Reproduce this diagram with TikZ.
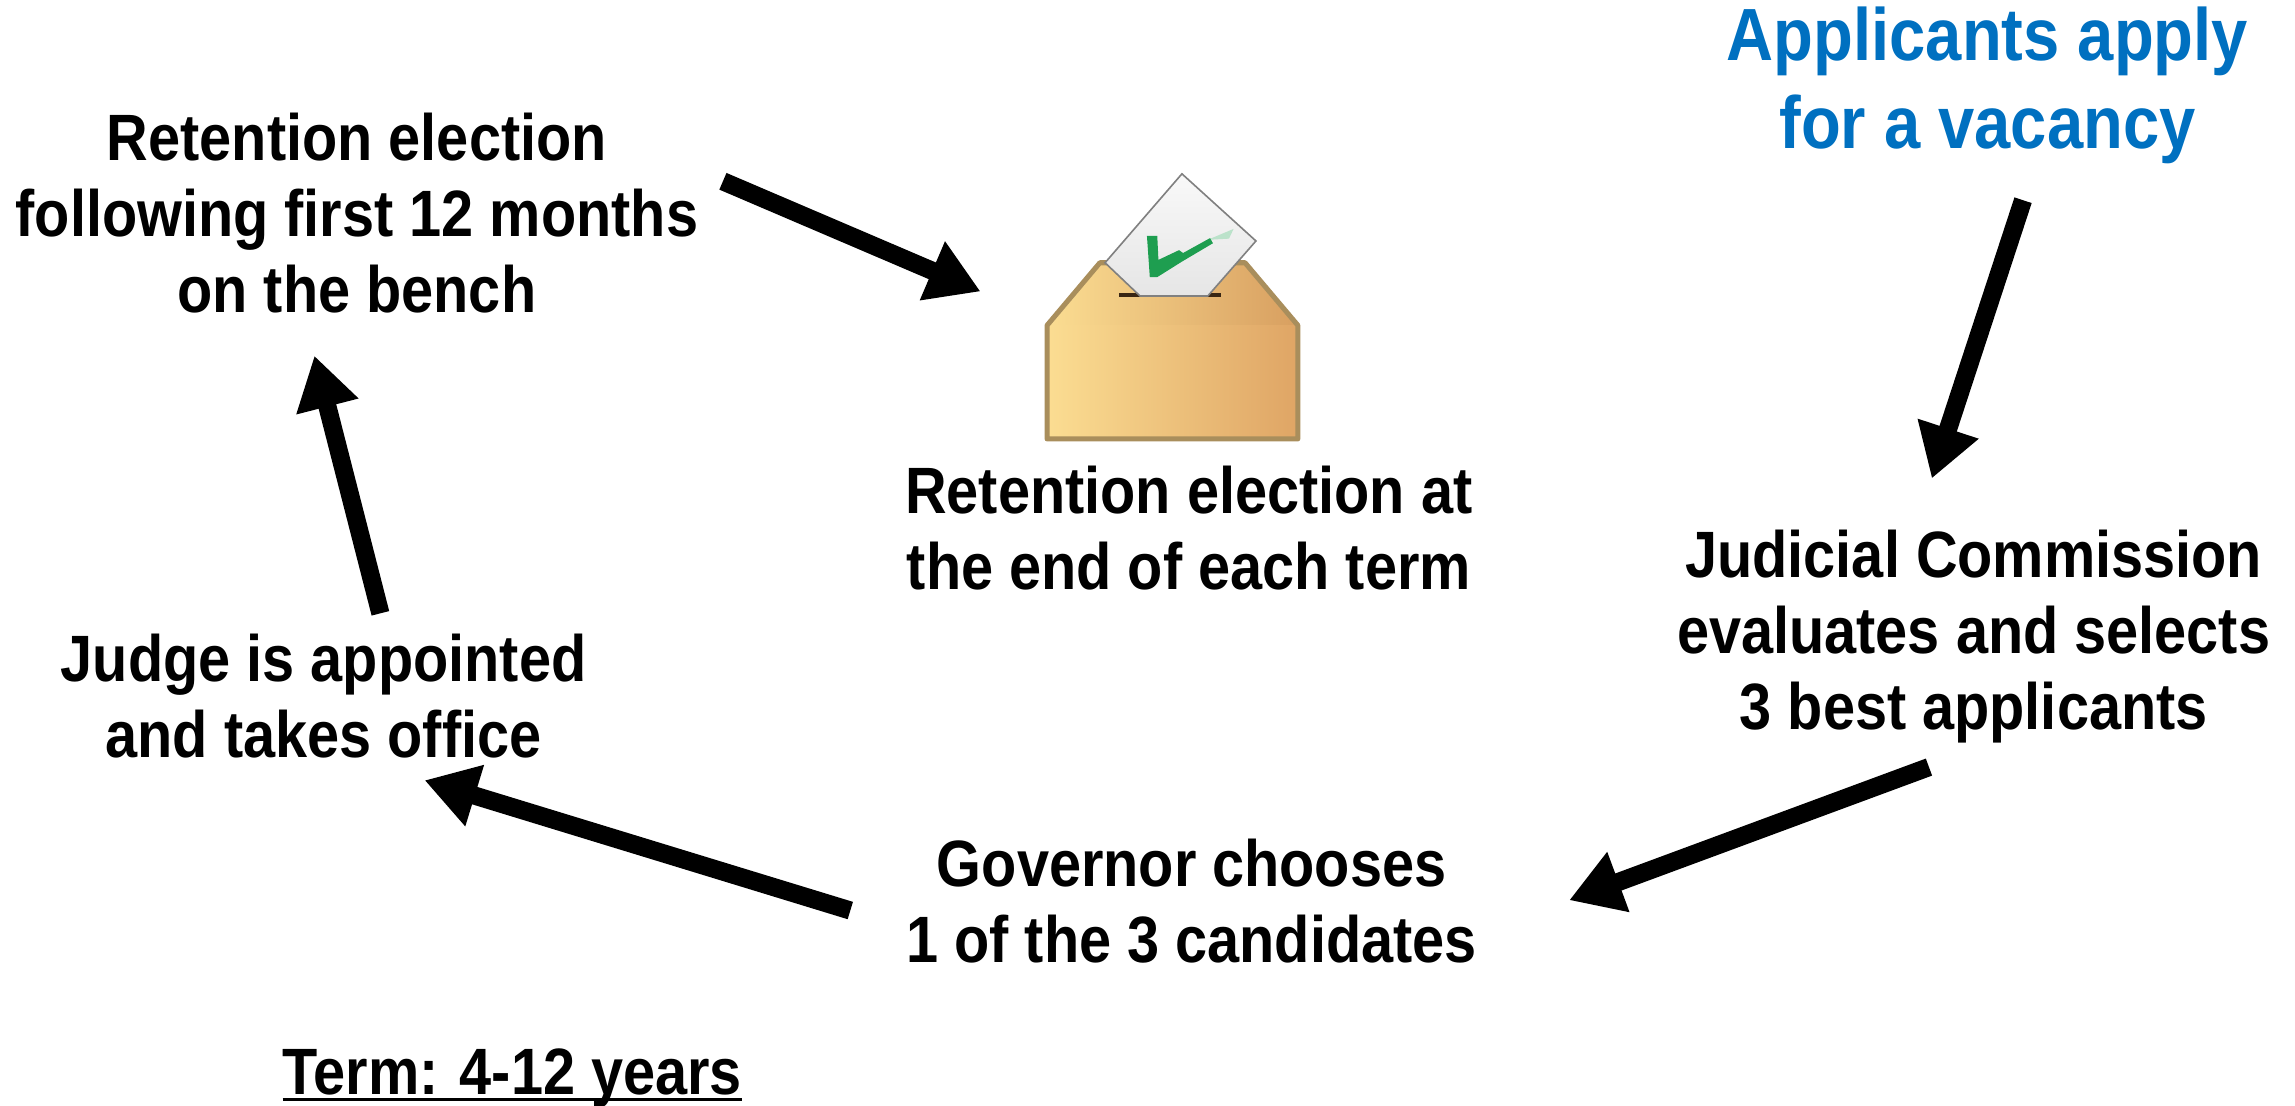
\documentclass[tikz,border=0pt]{standalone}
\usepackage{fontspec}
\setmainfont{Liberation Sans}[FakeStretch=0.88]
\usepackage{tikz}
\usetikzlibrary{positioning,calc,arrows.meta}
\definecolor{applyblue}{HTML}{0070C0}
\definecolor{tickgreen}{HTML}{1E9E50}
\definecolor{boxedge}{HTML}{A98E5C}
\definecolor{boxlight}{HTML}{FBDD92}
\definecolor{boxdark}{HTML}{DFA565}
\definecolor{flapdark}{HTML}{D89F60}
\newcommand{\termline}[1]{\setbox0=\hbox{#1}\rlap{\rule[-3.4pt]{\wd0}{1.6pt}}\box0}

\begin{document}
\begin{tikzpicture}
        \tikzstyle{steptext}=[align=center, inner sep=0pt, font=\fontsize{32.5}{37.7}\selectfont\bfseries]
        \tikzstyle{applytext}=[align=center, inner sep=0pt, text=applyblue, font=\fontsize{36.7}{43.5}\selectfont\bfseries]
        \tikzstyle{flow}=[line width=9pt, -{Triangle[length=26pt,width=30pt]}]

        \useasboundingbox (0,0) rectangle (40,19.26);

        % ballot box
        \fill[left color=boxlight, right color=flapdark]
            (18.25,13.59) -- (19.17,14.68) -- (21.70,14.68) -- (22.62,13.59) -- cycle;
        \fill[left color=boxlight, right color=boxdark]
            (18.25,11.61) rectangle (22.62,13.59);
        \draw[boxedge, line width=2.5pt, line join=round]
            (18.25,11.61) -- (18.25,13.59) -- (19.17,14.68) -- (21.70,14.68) -- (22.62,13.59) -- (22.62,11.61) -- cycle;
        \fill[black!70!brown] (19.50,14.09) rectangle (21.28,14.15);
        \draw[gray, line width=0.8pt, top color=gray!5, bottom color=gray!20]
            (20.60,16.23) -- (21.89,15.06) -- (21.05,14.10) -- (19.87,14.10) -- (19.26,14.68) -- cycle;
        \fill[tickgreen!30] (21.05,15.08) -- (21.50,15.27) -- (21.42,15.10) -- cycle;
        \fill[tickgreen] (19.99,15.15) -- (20.17,15.15) -- (20.19,14.73) -- (20.55,14.90) -- (20.62,14.85) -- (21.09,15.11)
            -- (21.14,15.02) -- (20.60,14.70) -- (20.17,14.43) -- (20.04,14.43) -- cycle;

        \node[inner sep=0pt, minimum width=4.37cm, minimum height=3.07cm] (ballot) at (20.43,13.15) {};

        \node[applytext] (apply) at (34.64,17.77) {Applicants apply\\for a vacancy};
        \node[steptext] (commission) at (34.4,8.17) {Judicial Commission\\evaluates and selects\\3 best applicants};
        \node[steptext] (governor) at (20.77,3.55) {Governor chooses\\1 of the 3 candidates};
        \node[steptext] (appointed) at (5.64,7.12) {Judge is appointed\\and takes office};
        \node[steptext] (first) at (6.22,15.55) {Retention election\\following first 12 months\\on the bench};
        \node[steptext] (term) at (20.72,10.05) {Retention election at\\the end of each term};
        \node[steptext, anchor=base] (years) at (8.93,0.19) {\termline{Term: 4-12 years}};

        \draw[flow] ([shift={(0.62,-2.0)}]apply.center) -- ([shift={(-0.73,2.75)}]commission.center);
        \draw[flow] ([shift={(-0.78,-2.28)}]commission.center) -- ([shift={(6.58,0.02)}]governor.center);
        \draw[flow] ([shift={(-5.95,-0.16)}]governor.center) -- ([shift={(1.76,-1.46)}]appointed.center);
        \draw[flow] ([shift={(0.99,1.45)}]appointed.center) -- ([shift={(-0.74,-2.49)}]first.center);
        \draw[flow] ([shift={(6.38,0.55)}]first.center) -- ([shift={(-3.34,1.03)}]ballot.center);
\end{tikzpicture}
\end{document}
